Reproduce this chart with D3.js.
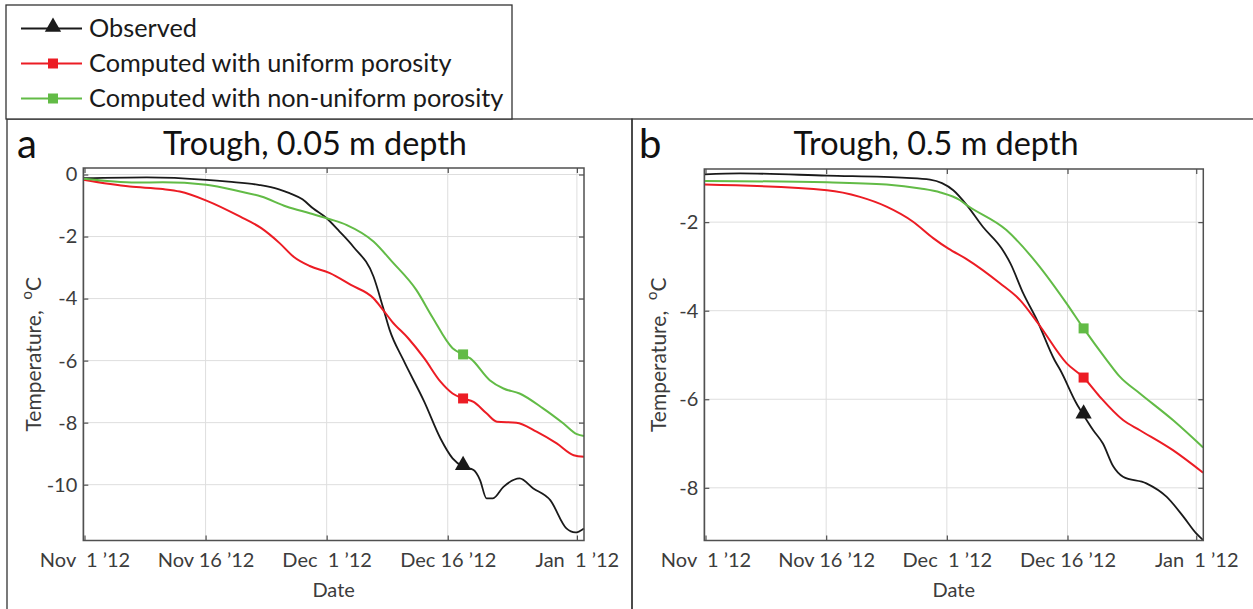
<!DOCTYPE html>
<html>
<head>
<meta charset="utf-8">
<script src="https://cdn.jsdelivr.net/npm/d3@7/dist/d3.min.js"></script>
<style>
  html, body { margin: 0; padding: 0; background: #fff; }
  svg { display: block; font-family: Lato, "Open Sans", sans-serif; }
</style>
</head>
<body>
<svg id="chart" width="1253" height="609"></svg>
<script>
// ---- data (days counted from Nov 1 2012) ----
const xTickDays = [0, 15, 30, 45, 61];
const xTickLabels = ["Nov  1 \u201912", "Nov 16 \u201912", "Dec  1 \u201912", "Dec 16 \u201912", "Jan  1 \u201912"];

const seriesNames = ["Observed", "Computed with uniform porosity", "Computed with non-uniform porosity"];

// panel a: 0.05 m depth
const obsDaysA = [-0.15, 7.7, 15.1, 17.8, 21.7, 24, 25.4, 27, 28.3, 30, 31.6, 33.3, 35.8, 37.0, 37.8, 39.5, 42.1, 44.1, 45.6, 46.9, 48.2, 49.0, 49.8, 50.6, 51.9, 53.9, 55.6, 57.7, 59.7, 60.8, 61.88];
const obsValsA = [-0.12, -0.09, -0.17, -0.23, -0.34, -0.47, -0.6, -0.8, -1.09, -1.41, -1.84, -2.33, -3.29, -4.3, -5.01, -5.98, -7.33, -8.51, -9.15, -9.42, -9.53, -9.85, -10.44, -10.44, -10.07, -9.8, -10.12, -10.5, -11.41, -11.54, -11.41];
const uniDaysA = [-0.15, 5.6, 9.7, 11.8, 15.1, 19.3, 21.9, 24.2, 25.9, 27.9, 30.4, 33, 35.8, 37, 38.1, 40.1, 42.1, 44.1, 45.6, 46.9, 48.2, 49.8, 51.1, 53.5, 56, 58.5, 60.6, 61.88];
const uniValsA = [-0.17, -0.39, -0.47, -0.55, -0.84, -1.36, -1.73, -2.22, -2.65, -2.95, -3.18, -3.56, -3.99, -4.37, -4.74, -5.28, -5.93, -6.68, -7.06, -7.22, -7.33, -7.7, -7.97, -8.0, -8.29, -8.67, -9.05, -9.1];
const nonDaysA = [-0.15, 6.4, 9.7, 15.1, 19.3, 21.9, 25, 27.9, 30.4, 32.5, 35.8, 38.1, 41.1, 43.1, 45.6, 46.9, 47.8, 50.2, 51.9, 53.9, 56.8, 59.3, 61, 61.88];
const nonValsA = [-0.14, -0.26, -0.25, -0.33, -0.55, -0.71, -1.03, -1.25, -1.44, -1.63, -2.16, -2.81, -3.72, -4.6, -5.6, -5.8, -5.93, -6.63, -6.9, -7.06, -7.54, -8.02, -8.37, -8.43];
const markerDayA = 46.9;
const markerValsA = [-9.42, -7.22, -5.8];

// panel b: 0.5 m depth
const obsDaysB = [-0.12, 4.3, 15.1, 25, 27.9, 29.4, 30.8, 32.5, 34.5, 36.8, 37.9, 39.5, 41.2, 43.4, 44.1, 46.1, 47.0, 48.2, 49.4, 50.7, 51.9, 54.8, 57.3, 59.4, 61.0, 61.86];
const obsValsB = [-0.92, -0.9, -0.95, -1.0, -1.04, -1.12, -1.28, -1.62, -2.11, -2.59, -2.93, -3.61, -4.21, -5.12, -5.34, -6.09, -6.36, -6.7, -7.0, -7.52, -7.75, -7.9, -8.2, -8.65, -9.03, -9.18];
const uniDaysB = [-0.12, 15.1, 19.2, 22.5, 25.8, 28.3, 30.2, 32.5, 36.6, 39.1, 41.4, 44.9, 47.0, 49.0, 51.9, 54, 58.1, 61.86];
const uniValsB = [-1.15, -1.28, -1.43, -1.65, -1.99, -2.36, -2.6, -2.84, -3.38, -3.76, -4.3, -5.19, -5.51, -5.94, -6.47, -6.7, -7.15, -7.66];
const nonDaysB = [-0.12, 15.1, 22.5, 26.7, 29.2, 31.6, 32.5, 37.4, 41.2, 44.9, 47.0, 49.9, 51.5, 54.0, 58.1, 61.86];
const nonValsB = [-1.07, -1.1, -1.15, -1.24, -1.33, -1.5, -1.62, -2.18, -2.93, -3.84, -4.4, -5.12, -5.49, -5.87, -6.47, -7.09];
const markerDayB = 47.0;
const markerValsB = [-6.36, -5.51, -4.4];

const yTicksA = [0, -2, -4, -6, -8, -10];
const yTicksB = [-2, -4, -6, -8];

// ---- styling ----
const COLORS = ["#1a1a1a", "#ec1c24", "#62bb46"];
const AXIS_COLOR = "#505050";
const GRID_COLOR = "#dedede";
const TICK_TEXT = "#3c3c3c";
const FRAME_COLOR = "#333333";

const DAY0 = Date.UTC(2012, 10, 1);
const toDate = (d) => new Date(DAY0 + d * 864e5);
const zip = (days, vals) => days.map((d, i) => ({ date: toDate(d), value: vals[i] }));

const panels = [
    {
        letter: "a",
        title: "Trough, 0.05 m depth",
        xRange: [83.3, 584],
        yRange: [540.5, 168],
        yDomain: [-11.8, 0.21],
        yTicks: yTicksA,
        series: [zip(obsDaysA, obsValsA), zip(uniDaysA, uniValsA), zip(nonDaysA, nonValsA)],
        markerDay: markerDayA,
        markerVals: markerValsA,
        letterX: 17,
        titleX: 315,
        yLabelX: 41,
    },
    {
        letter: "b",
        title: "Trough, 0.5 m depth",
        xRange: [704.3, 1203.3],
        yRange: [540.5, 169],
        yDomain: [-9.19, -0.8],
        yTicks: yTicksB,
        series: [zip(obsDaysB, obsValsB), zip(uniDaysB, uniValsB), zip(nonDaysB, nonValsB)],
        markerDay: markerDayB,
        markerVals: markerValsB,
        letterX: 639,
        titleX: 936,
        yLabelX: 666,
    },
];

const svg = d3.select("#chart");

// frames: legend box + two panel boxes
svg.append("rect").attr("x", 7).attr("y", 119).attr("width", 625).attr("height", 500)
    .attr("fill", "none").attr("stroke", FRAME_COLOR).attr("stroke-width", 1.3);
svg.append("rect").attr("x", 632).attr("y", 119).attr("width", 640).attr("height", 500)
    .attr("fill", "none").attr("stroke", FRAME_COLOR).attr("stroke-width", 1.3);
svg.append("rect").attr("x", 6).attr("y", 5).attr("width", 506).attr("height", 114)
    .attr("fill", "#fff").attr("stroke", FRAME_COLOR).attr("stroke-width", 1.3);

const TRI_SIZE = 115;
const SQ_SIZE = 100;
const markerPath = (i) =>
    d3.symbol().type(i === 0 ? d3.symbolTriangle : d3.symbolSquare).size(i === 0 ? TRI_SIZE : SQ_SIZE)();

// legend
const legend = svg.append("g");
seriesNames.forEach((name, i) => {
    const cy = 28.5 + i * 35;
    legend.append("line").attr("x1", 21).attr("x2", 82).attr("y1", cy).attr("y2", cy)
        .attr("stroke", COLORS[i]).attr("stroke-width", 2);
    legend.append("path").attr("d", markerPath(i))
        .attr("transform", `translate(53,${i === 0 ? cy - 1.5 : cy})`).attr("fill", COLORS[i]);
    legend.append("text").attr("x", 89).attr("y", cy + 8.5)
        .style("font-size", "25.3px").style("fill", "#1a1a1a").text(name);
});

panels.forEach((p) => {
    const x = d3.scaleTime().domain([toDate(-0.15), toDate(61.88)]).range(p.xRange);
    const y = d3.scaleLinear().domain(p.yDomain).range(p.yRange);
    const [x0, x1] = p.xRange;
    const [yb, yt] = p.yRange;
    const g = svg.append("g");

    // grid
    g.append("g").selectAll("line").data(xTickDays).join("line")
        .attr("x1", (d) => x(toDate(d))).attr("x2", (d) => x(toDate(d)))
        .attr("y1", yt).attr("y2", yb).attr("stroke", GRID_COLOR).attr("stroke-width", 1);
    g.append("g").selectAll("line").data(p.yTicks).join("line")
        .attr("x1", x0).attr("x2", x1).attr("y1", (d) => y(d)).attr("y2", (d) => y(d))
        .attr("stroke", GRID_COLOR).attr("stroke-width", 1);

    // lines
    const line = d3.line().x((d) => x(d.date)).y((d) => y(d.value)).curve(d3.curveMonotoneX);
    p.series.forEach((s, i) => {
        g.append("path").datum(s).attr("d", line).attr("fill", "none")
            .attr("stroke", COLORS[i]).attr("stroke-width", i === 0 ? 1.8 : 2)
            .attr("stroke-linejoin", "round");
    });
    p.markerVals.forEach((v, i) => {
        g.append("path").attr("d", markerPath(i))
            .attr("transform", `translate(${x(toDate(p.markerDay))},${y(v) - (i === 0 ? 1.5 : 0)})`)
            .attr("fill", COLORS[i]);
    });

    // axes (ticks point inward on all four sides)
    const xTickDates = xTickDays.map(toDate);
    const styleAxis = (sel) => {
        sel.select(".domain").remove();
        sel.selectAll(".tick line").attr("stroke", AXIS_COLOR).attr("stroke-width", 1.2);
        sel.selectAll(".tick text").style("fill", TICK_TEXT).style("font-size", "20px")
            .style("font-family", "Lato, sans-serif").style("white-space", "pre");
    };
    g.append("g").attr("transform", `translate(0,${yb})`)
        .call(d3.axisBottom(x).tickValues(xTickDates).tickSizeInner(-5).tickSizeOuter(0).tickPadding(12)
            .tickFormat((d, i) => xTickLabels[i]))
        .call(styleAxis);
    g.append("g").attr("transform", `translate(0,${yt})`)
        .call(d3.axisTop(x).tickValues(xTickDates).tickSizeInner(-5).tickSizeOuter(0).tickFormat(""))
        .call(styleAxis);
    g.append("g").attr("transform", `translate(${x0},0)`)
        .call(d3.axisLeft(y).tickValues(p.yTicks).tickSizeInner(-5).tickSizeOuter(0).tickPadding(6)
            .tickFormat((d) => String(d)))
        .call(styleAxis);
    g.append("g").attr("transform", `translate(${x1},0)`)
        .call(d3.axisRight(y).tickValues(p.yTicks).tickSizeInner(-5).tickSizeOuter(0).tickFormat(""))
        .call(styleAxis);

    g.append("rect").attr("x", x0).attr("y", yt).attr("width", x1 - x0).attr("height", yb - yt)
        .attr("fill", "none").attr("stroke", AXIS_COLOR).attr("stroke-width", 1.5);

    // labels
    g.append("text").attr("x", p.letterX).attr("y", 157.5).style("font-size", "40px")
        .style("fill", "#111").text(p.letter);
    g.append("text").attr("x", p.titleX).attr("y", 154.5).attr("text-anchor", "middle")
        .style("font-size", "32.4px").style("fill", "#111").text(p.title);
    g.append("text").attr("x", (x0 + x1) / 2).attr("y", 597).attr("text-anchor", "middle")
        .style("font-size", "20px").style("fill", TICK_TEXT).text("Date");

    const yl = g.append("text")
        .attr("transform", `translate(${p.yLabelX},${(yt + yb) / 2}) rotate(-90)`)
        .attr("text-anchor", "middle").style("font-size", "21px").style("fill", TICK_TEXT)
        .style("white-space", "pre");
    yl.append("tspan").text("Temperature,  ");
    yl.append("tspan").attr("dy", -9).style("font-size", "15px").text("o");
    yl.append("tspan").attr("dy", 9).text("C");
});
</script>
</body>
</html>
